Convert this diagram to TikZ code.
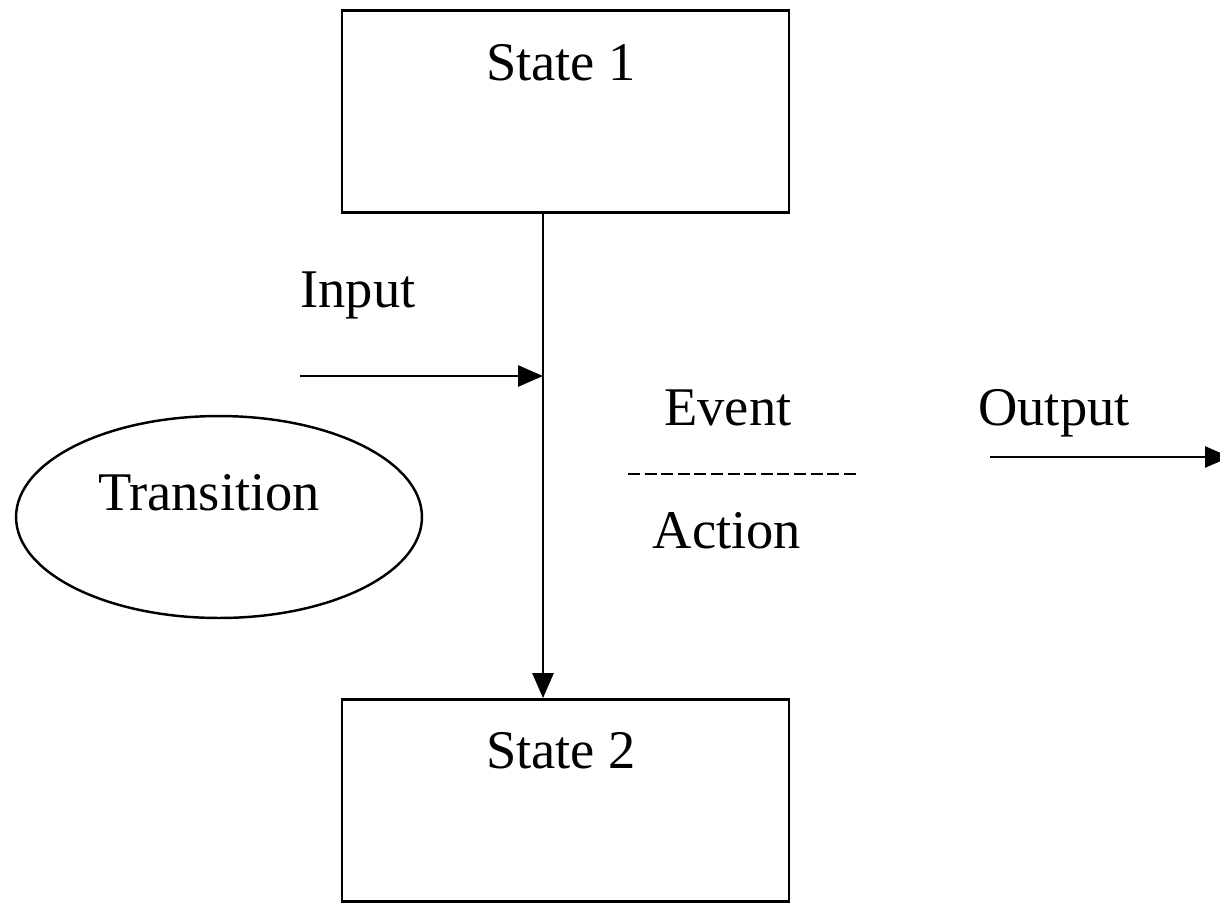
\documentclass[tikz,border=0pt]{standalone}
\usepackage{fontspec}
\setmainfont{Liberation Serif}
\usetikzlibrary{shapes.geometric,arrows.meta,positioning}
\tikzset{
statebox/.style={draw,line width=1.6pt,minimum width=8.94cm,minimum height=4.04cm,inner sep=0},
trans/.style={draw,ellipse,line width=1.4pt,minimum width=8.12cm,minimum height=4.04cm,inner sep=0},
lbl/.style={anchor=base,font=\fontsize{31}{37}\selectfont,inner sep=0},
arr/.style={line width=1.5pt,-{Triangle[length=0.5cm,width=0.42cm]}}
}
\begin{document}
\begin{tikzpicture}[x=0.02cm,y=-0.02cm]
\useasboundingbox (0,0) rectangle (1220,903);
\node[statebox] (s1) at (565.5,111.5) {};
\node[statebox] (s2) at (565.5,800.5) {};
\node[lbl] (s1t) at (561,80) {State 1};
\node[lbl] (s2t) at (561,768) {State 2};
\node[trans] (tr) at (219,517) {};
\node[lbl] (trt) at (209,510) {Transition};
\node[lbl] (in) at (358,307) {Input};
\node[lbl] (ev) at (728,425) {Event};
\node[lbl] (ac) at (727,548) {Action};
\node[lbl] (out) at (1054,425) {Output};
\coordinate (j) at (543,376);
\coordinate (i0) at (300,376);
\coordinate (o0) at (990,457);
\coordinate (o1) at (1230,457);
\coordinate (d0) at (628,474);
\coordinate (d1) at (860,474);
\draw[arr] (i0) -- (j);
\draw[arr] (j |- s1.south) -- (j |- s2.north);
\draw[arr] (o0) -- (o1);
\draw[line width=1.1pt,dash pattern=on 0.24cm off 0.092cm] (d0) -- (d1);
\end{tikzpicture}
\end{document}
